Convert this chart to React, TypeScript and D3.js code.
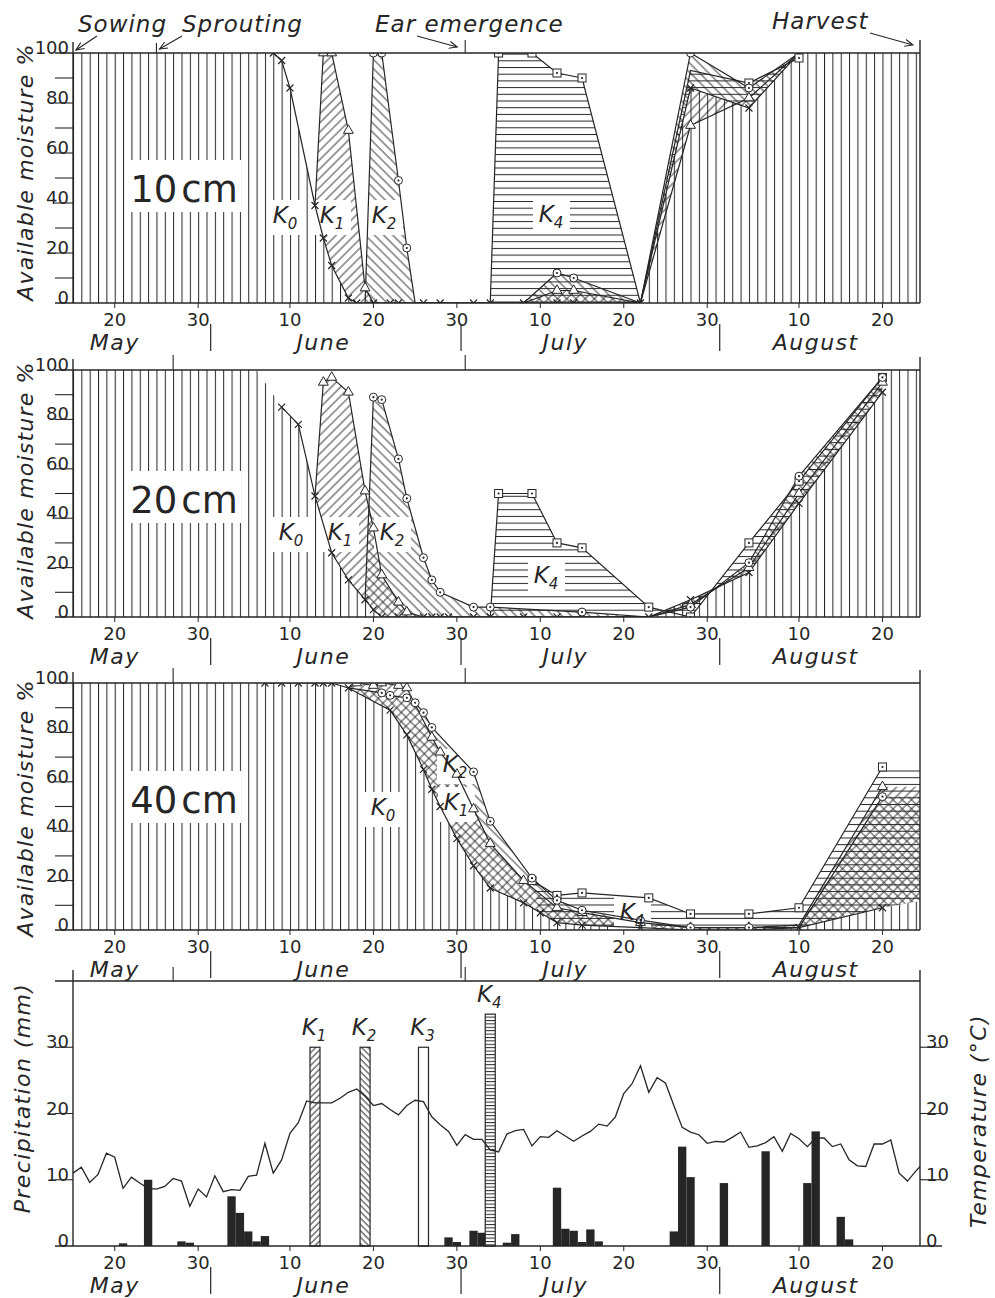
import React from "react";
import * as d3 from "d3";

type Pt = [string, number, string?];

const INK = "#262626";
const FONT = "'DejaVu Sans', 'Liberation Sans', sans-serif";

// calendar
const dayTicks = ["05-20", "05-30", "06-10", "06-20", "06-30", "07-10", "07-20", "07-30", "08-10", "08-20"];
const months: [string, string][] = [["May", "05-20"], ["June", "06-14"], ["July", "07-13"], ["August", "08-12"]];
const monthStarts = ["06-01", "07-01", "08-01"];
const stages: [string, string][] = [["Sowing", "05-15"], ["Sprouting", "05-25"], ["Ear emergence", "07-01"], ["Harvest", "08-24"]];
const stageMarks = ["05-27", "07-01"];

// available moisture %, "a" = only in the hatching, "j" = joins a curve, no symbol
const k0_10: Pt[] = [["05-15", 100, "a"], ["06-08", 100], ["06-09", 97], ["06-10", 86], ["06-13", 39], ["06-14", 26], ["06-15", 15], ["06-17", 2], ["06-18", 0], ["06-20", 0], ["06-22", 0], ["06-23", 0], ["06-26", 0], ["06-28", 0], ["07-02", 0], ["07-04", 0], ["07-08", 0], ["07-12", 0], ["07-14", 0], ["07-22", 0], ["07-28", 86], ["08-04", 78], ["08-10", 100], ["08-25", 100, "a"]];
const k1_10: Pt[] = [["06-13", 39, "j"], ["06-14", 100], ["06-15", 100], ["06-17", 69], ["06-19", 6], ["06-20", 0, "j"], ["07-08", 0, "j"], ["07-12", 5], ["07-14", 5], ["07-22", 0, "j"], ["07-28", 71], ["08-04", 82], ["08-10", 100, "j"]];
const k2_10: Pt[] = [["06-19", 0, "j"], ["06-20", 100], ["06-21", 100], ["06-23", 49], ["06-24", 22], ["06-25", 0, "j"], ["07-08", 0, "j"], ["07-12", 12], ["07-14", 10], ["07-22", 0, "j"], ["07-28", 100], ["08-04", 86], ["08-10", 100, "j"]];
const k4_10: Pt[] = [["07-04", 0, "j"], ["07-05", 100], ["07-09", 100], ["07-12", 92], ["07-15", 90], ["07-22", 0, "j"], ["07-28", 93, "j"], ["08-04", 88], ["08-10", 98]];

const k0_20: Pt[] = [["05-15", 100, "a"], ["06-06", 100, "a"], ["06-09", 85], ["06-11", 78], ["06-13", 49], ["06-15", 26], ["06-17", 15], ["06-19", 7], ["06-20", 3], ["06-21", 0], ["06-23", 0], ["06-26", 0], ["06-27", 0], ["06-28", 0], ["06-29", 0], ["07-02", 0], ["07-04", 0], ["07-08", 0], ["07-12", 0], ["07-15", 0], ["07-23", 0], ["07-28", 7], ["08-04", 18], ["08-10", 46], ["08-20", 91], ["08-21", 100, "a"], ["08-25", 100, "a"]];
const k1_20: Pt[] = [["06-13", 49, "j"], ["06-14", 95], ["06-15", 97], ["06-17", 91], ["06-19", 51], ["06-20", 36], ["06-21", 17], ["06-23", 6], ["06-24", 2], ["06-26", 0, "j"], ["07-23", 0, "j"], ["07-28", 5], ["08-04", 20], ["08-10", 50], ["08-20", 95]];
const k2_20: Pt[] = [["06-19", 7, "j"], ["06-20", 89], ["06-21", 88], ["06-23", 64], ["06-24", 48], ["06-26", 24], ["06-27", 15], ["06-28", 10], ["07-02", 4], ["07-04", 4], ["07-15", 2], ["07-23", 0, "j"], ["07-28", 4], ["08-04", 22], ["08-10", 57], ["08-20", 97]];
const k4_20: Pt[] = [["07-04", 0, "j"], ["07-05", 50], ["07-09", 50], ["07-12", 30], ["07-15", 28], ["07-23", 4], ["07-28", 0], ["08-04", 30], ["08-10", 55], ["08-20", 97]];

const k0_40: Pt[] = [["05-15", 100, "a"], ["06-07", 100], ["06-09", 100], ["06-11", 100], ["06-13", 100], ["06-14", 100], ["06-15", 100], ["06-17", 98], ["06-22", 89], ["06-24", 79], ["06-26", 65], ["06-27", 57], ["06-28", 50], ["06-30", 37], ["07-02", 26], ["07-04", 17], ["07-08", 11], ["07-10", 7], ["07-12", 3], ["07-15", 2], ["07-22", 1], ["07-28", 0], ["08-04", 0], ["08-10", 1], ["08-20", 9], ["08-25", 12, "a"]];
const k1_40: Pt[] = [["06-17", 98, "j"], ["06-18", 100], ["06-20", 99], ["06-21", 100], ["06-23", 99], ["06-24", 98], ["06-27", 78], ["06-28", 72], ["06-30", 63], ["07-02", 49], ["07-04", 35], ["07-08", 20], ["07-12", 9], ["07-15", 7], ["07-22", 3], ["07-28", 1], ["08-04", 1], ["08-10", 2, "j"], ["08-20", 58], ["08-25", 58, "a"]];
const k2_40: Pt[] = [["06-17", 98, "j"], ["06-21", 96], ["06-22", 95], ["06-24", 94], ["06-25", 92], ["06-26", 88], ["06-27", 82], ["07-02", 64], ["07-04", 44], ["07-09", 21], ["07-12", 12], ["07-15", 8], ["07-22", 4], ["07-28", 1], ["08-04", 1], ["08-10", 1, "j"], ["08-20", 54], ["08-25", 54, "a"]];
const k4_40: Pt[] = [["07-09", 20], ["07-12", 14], ["07-15", 15], ["07-23", 13], ["07-28", 6.5], ["08-04", 6.5], ["08-10", 9], ["08-20", 66], ["08-25", 66, "a"]];

// weather
const rain: [string, number][] = [["05-21", 0.4], ["05-24", 10], ["05-28", 0.7], ["05-29", 0.5], ["06-03", 7.5], ["06-04", 5], ["06-05", 2.2], ["06-06", 0.7], ["06-07", 1.5], ["06-29", 1.3], ["06-30", 0.6], ["07-02", 2.3], ["07-03", 2.0], ["07-06", 0.5], ["07-07", 1.8], ["07-12", 8.8], ["07-13", 2.6], ["07-14", 2.3], ["07-15", 0.6], ["07-16", 2.5], ["07-17", 0.7], ["07-26", 2.2], ["07-27", 15], ["07-28", 10.4], ["08-01", 9.5], ["08-06", 14.3], ["08-11", 9.5], ["08-12", 17.3], ["08-15", 4.4], ["08-16", 1.0]];
const irrigation: [string, string, number][] = [["1", "06-13", 30], ["2", "06-19", 30], ["3", "06-26", 30], ["4", "07-04", 35]];
const tempStart = "05-15";
const temperature = [11.0, 11.9, 9.6, 10.8, 14.0, 13.4, 8.7, 10.4, 9.5, 8.7, 8.6, 9.0, 10.2, 9.8, 6.0, 8.6, 7.4, 10.6, 8.2, 8.5, 8.4, 10.5, 10.7, 15.5, 11.0, 13.0, 17.0, 18.6, 21.9, 21.6, 21.6, 21.6, 22.3, 23.2, 23.7, 22.6, 21.2, 21.5, 20.6, 19.8, 21.2, 22.0, 21.8, 19.5, 18.3, 17.3, 15.2, 16.8, 16.1, 16.1, 14.5, 14.2, 16.9, 17.4, 17.6, 15.1, 16.5, 16.4, 17.4, 16.6, 15.8, 16.6, 17.3, 18.4, 18.1, 19.5, 23.0, 24.5, 27.2, 23.2, 25.4, 24.6, 21.2, 17.9, 17.2, 16.8, 15.5, 15.8, 15.7, 16.4, 17.2, 14.9, 15.1, 15.6, 16.5, 14.3, 17.0, 16.2, 15.0, 16.3, 16.3, 15.0, 15.4, 13.0, 12.1, 12.0, 15.4, 15.4, 16.0, 11.0, 9.8, 11.3, 12.7];

const parse = d3.timeParse("%m-%d") as (s: string) => Date;
const L = 73, R = 920;
const x = d3.scaleTime().domain([parse("05-15"), d3.timeHour.offset(parse("08-24"), 12)]).range([L, R]);
const X = (s: string) => x(parse(s));
const dayW = X("05-16") - X("05-15");
const half = (s: string) => x(d3.timeHour.offset(parse(s), -12));
const tri = d3.symbol(d3.symbolTriangle, 42)() as string;

const panels = [
  { id: "p10", depth: "10", top: 53, bottom: 303, k0: k0_10, k1: k1_10, k2: k2_10, k4: k4_10, tag: 202, title: 172,
    keys: [["0", 285, 223], ["1", 332, 223], ["2", 384, 223], ["4", 551, 222]] as [string, number, number][] },
  { id: "p20", depth: "20", top: 370, bottom: 617, k0: k0_20, k1: k1_20, k2: k2_20, k4: k4_20, tag: 513, title: 490,
    keys: [["0", 291, 540], ["1", 340, 540], ["2", 392, 540], ["4", 546, 583]] as [string, number, number][] },
  { id: "p40", depth: "40", top: 683, bottom: 930, k0: k0_40, k1: k1_40, k2: k2_40, k4: k4_40, tag: 813, title: 808,
    keys: [["0", 383, 815], ["2", 455, 772], ["1", 456, 810], ["4", 632, 920]] as [string, number, number][] },
];

function Marker({ kind, cx, cy }: { kind: string; cx: number; cy: number }) {
  const t = `translate(${cx},${cy})`;
  if (kind === "x") return <path transform={t} d="M-3.5,-3.5L3.5,3.5M-3.5,3.5L3.5,-3.5" stroke={INK} strokeWidth={1.2} fill="none" />;
  if (kind === "tri") return <path transform={t} d={tri} fill="#fff" stroke={INK} strokeWidth={1} />;
  if (kind === "circ") return <g transform={t}><circle r={4} fill="#fff" stroke={INK} strokeWidth={1} /><circle r={1.1} fill={INK} /></g>;
  return <g transform={t}><rect x={-4} y={-4} width={8} height={8} fill="#fff" stroke={INK} strokeWidth={1} /><circle r={1.1} fill={INK} /></g>;
}

function KLabel({ n, cx, by, box = true }: { n: string; cx: number; by: number; box?: boolean }) {
  return (
    <g>
      {box && <rect x={cx - 18} y={by - 23} width={37} height={35} fill="#fff" />}
      <text x={cx} y={by} textAnchor="middle" fontStyle="italic" fontSize={23} fill={INK}>
        K<tspan fontSize={15} dy={6}>{n}</tspan>
      </text>
    </g>
  );
}

function DateAxis({ bottom }: { bottom: number }) {
  return (
    <g fill={INK}>
      {dayTicks.map((d) => (
        <g key={d}>
          <line x1={X(d)} x2={X(d)} y1={bottom} y2={bottom + 5} stroke={INK} />
          <text x={X(d)} y={bottom + 23} textAnchor="middle" fontSize={18}>{String(+d.slice(3))}</text>
        </g>
      ))}
      {monthStarts.map((d) => (
        <line key={d} x1={half(d)} x2={half(d)} y1={bottom + 21} y2={bottom + 48} stroke={INK} strokeWidth={1.2} />
      ))}
      {months.map(([m, d]) => (
        <text key={m} x={X(d)} y={bottom + 47} textAnchor="middle" fontSize={22} fontStyle="italic" letterSpacing={1.5}>{m}</text>
      ))}
    </g>
  );
}

function MoisturePanel({ p }: { p: (typeof panels)[number] }) {
  const y = d3.scaleLinear().domain([0, 100]).range([p.bottom, p.top]);
  const line = d3.line<Pt>().x((d) => X(d[0])).y((d) => y(d[1]));
  const area = d3.area<Pt>().x((d) => X(d[0])).y0(y(0)).y1((d) => y(d[1]));
  const band = (kn: Pt[]) => {
    const t0 = +parse(kn[0][0]), t1 = +parse(kn[kn.length - 1][0]);
    const lower = p.k0.filter((d) => +parse(d[0]) >= t0 && +parse(d[0]) <= t1).reverse();
    return line([...kn, ...lower]) + "Z";
  };
  const series = [
    { data: p.k4, fill: "url(#horiz)", mark: "sq" },
    { data: p.k1, fill: "url(#up)", mark: "tri" },
    { data: p.k2, fill: "url(#down)", mark: "circ" },
  ];
  const clip = `clip-${p.id}`;
  const ticks = d3.range(0, 101, 10);
  return (
    <g>
      <clipPath id={clip}><rect x={L} y={p.top} width={R - L} height={p.bottom - p.top} /></clipPath>
      <g clipPath={`url(#${clip})`}>
        <path d={area(p.k0) as string} fill="url(#vert)" />
        {series.map((s, i) => <path key={i} d={band(s.data)} fill={s.fill} />)}
        <rect x={127} y={p.tag - 42} width={114} height={52} fill="#fff" />
        {p.keys.map(([n, cx, by]) => <rect key={n} x={cx - 18} y={by - 23} width={37} height={35} fill="#fff" />)}
        {[p.k0, ...series.map((s) => s.data)].map((s, i) => (
          <path key={i} d={line(s.filter((d) => d[2] !== "a")) as string} fill="none" stroke={INK} strokeWidth={1.2} />
        ))}
        {p.k0.filter((d) => !d[2]).map((d, i) => <Marker key={"x" + i} kind="x" cx={X(d[0])} cy={y(d[1])} />)}
        {series.map((s) =>
          s.data.filter((d) => !d[2]).map((d, i) => <Marker key={s.mark + i} kind={s.mark} cx={X(d[0])} cy={y(d[1])} />)
        )}
      </g>
      {/* frame */}
      <g stroke={INK} strokeWidth={1.4} fill="none">
        <line x1={L} x2={L} y1={p.bottom} y2={p.top - 11} />
        <line x1={R} x2={R} y1={p.bottom} y2={p.top - 13} />
        <line x1={55} x2={R} y1={p.top} y2={p.top} />
        <line x1={55} x2={R} y1={p.bottom} y2={p.bottom} />
        {ticks.slice(1, -1).map((t) => <line key={t} x1={55} x2={L} y1={y(t)} y2={y(t)} strokeWidth={1.1} />)}
        {p.id !== "p10" && stageMarks.map((d) => <line key={d} x1={X(d)} x2={X(d)} y1={p.top - 15} y2={p.top} strokeWidth={1.1} />)}
      </g>
      <g fill={INK} fontSize={18}>
        {ticks.filter((t) => t % 20 === 0).map((t) => (
          <text key={t} x={69} y={y(t) + 1} textAnchor="end">{t}</text>
        ))}
      </g>
      <text transform={`translate(33,${p.title}) rotate(-90)`} textAnchor="middle" fontSize={22} fontStyle="italic" letterSpacing={1.2} fill={INK}>
        Available moisture %
      </text>
      <text x={184} y={p.tag} textAnchor="middle" fontSize={37} fill={INK}>
        {p.depth}<tspan dx={4}>cm</tspan>
      </text>
      {p.keys.map(([n, cx, by]) => <KLabel key={n} n={n} cx={cx} by={by} box={false} />)}
      <DateAxis bottom={p.bottom} />
    </g>
  );
}

function WeatherPanel() {
  const top = 981, bottom = 1246;
  const y = d3.scaleLinear().domain([0, 40]).range([bottom, top]);
  const tx = (i: number) => x(d3.timeDay.offset(parse(tempStart), i));
  const tLine = d3.line<number>().x((_, i) => tx(i)).y((v) => y(v));
  const fills: Record<string, string> = { "1": "url(#barUp)", "2": "url(#barDown)", "3": "none", "4": "url(#barHoriz)" };
  const ticks = [0, 10, 20, 30];
  return (
    <g>
      <clipPath id="clip-w"><rect x={L} y={top} width={R - L} height={bottom - top} /></clipPath>
      {rain.map(([d, v]) => (
        <rect key={d} x={X(d) - dayW / 2} y={y(v)} width={dayW} height={y(0) - y(v)} fill={INK} />
      ))}
      {irrigation.map(([n, d, v]) => (
        <g key={n}>
          <rect x={X(d) - 5} y={y(v)} width={10} height={y(0) - y(v)} fill="#fff" />
          <rect x={X(d) - 5} y={y(v)} width={10} height={y(0) - y(v)} fill={fills[n]} stroke={INK} strokeWidth={1.2} />
          <KLabel n={n} cx={X(d) - 1} by={y(v) - 12} box={false} />
        </g>
      ))}
      <path d={tLine(temperature) as string} fill="none" stroke={INK} strokeWidth={1.3} clipPath="url(#clip-w)" />
      <g stroke={INK} strokeWidth={1.4}>
        <line x1={L} x2={L} y1={bottom} y2={top - 11} />
        <line x1={R} x2={R} y1={bottom} y2={top - 11} />
        <line x1={55} x2={R} y1={top} y2={top} />
        <line x1={55} x2={942} y1={bottom} y2={bottom} />
        {ticks.slice(1).map((t) => (
          <g key={t}>
            <line x1={55} x2={L} y1={y(t)} y2={y(t)} strokeWidth={1.1} />
            <line x1={R} x2={942} y1={y(t)} y2={y(t)} strokeWidth={1.1} />
          </g>
        ))}
        {stageMarks.map((d) => <line key={d} x1={X(d)} x2={X(d)} y1={top - 14} y2={top} strokeWidth={1.1} />)}
      </g>
      <g fill={INK} fontSize={18}>
        {ticks.map((t) => (
          <g key={t}>
            <text x={69} y={y(t) + 1} textAnchor="end">{t}</text>
            <text x={926} y={y(t) + 1}>{t}</text>
          </g>
        ))}
      </g>
      <text transform={`translate(30,1098) rotate(-90)`} textAnchor="middle" fontSize={22} fontStyle="italic" letterSpacing={1.4} fill={INK}>
        Precipitation (mm)
      </text>
      <text transform={`translate(986,1121) rotate(-90)`} textAnchor="middle" fontSize={22} fontStyle="italic" letterSpacing={1.4} fill={INK}>
        Temperature (°C)
      </text>
      <DateAxis bottom={bottom} />
    </g>
  );
}

const stageLayout = [
  { tx: 78, ty: 32, ax: 97, dx: 3, ty2: 50 },
  { tx: 182, ty: 32, ax: 182, dx: 3, ty2: 49 },
  { tx: 375, ty: 32, ax: 417, dx: -8, ty2: 47 },
  { tx: 772, ty: 29, ax: 870, dx: -3, ty2: 45 },
];

function Stages() {
  return (
    <g fill={INK}>
      {stages.map(([name, d], i) => {
        const s = stageLayout[i];
        return (
          <g key={name}>
            <text x={s.tx} y={s.ty} fontSize={23} fontStyle="italic" letterSpacing={1}>{name}</text>
            <line x1={s.ax} y1={s.ty + 4} x2={X(d) + s.dx} y2={s.ty2} stroke={INK} strokeWidth={1.1} markerEnd="url(#arrow)" />
          </g>
        );
      })}
      <line x1={X("05-25")} x2={X("05-25")} y1={43} y2={53} stroke={INK} strokeWidth={1.1} />
      <line x1={X("07-01")} x2={X("07-01")} y1={40} y2={53} stroke={INK} strokeWidth={1.1} />
    </g>
  );
}

export default function App() {
  return (
    <svg width={995} height={1298} style={{ position: "absolute", left: 0, top: 0, background: "#fff" }} fontFamily={FONT}>
      <defs>
        <pattern id="vert" patternUnits="userSpaceOnUse" x={L} y={0} width={dayW} height={10}>
          <line x1={0.5} x2={0.5} y1={0} y2={10} stroke={INK} strokeWidth={1} />
        </pattern>
        <pattern id="up" patternUnits="userSpaceOnUse" width={6.5} height={6.5} patternTransform="rotate(45)">
          <line x1={1} x2={1} y1={0} y2={6.5} stroke={INK} strokeWidth={0.9} />
        </pattern>
        <pattern id="down" patternUnits="userSpaceOnUse" width={6.5} height={6.5} patternTransform="rotate(-45)">
          <line x1={1} x2={1} y1={0} y2={6.5} stroke={INK} strokeWidth={0.9} />
        </pattern>
        <pattern id="horiz" patternUnits="userSpaceOnUse" width={10} height={6.7}>
          <line x1={0} x2={10} y1={0.5} y2={0.5} stroke={INK} strokeWidth={1} />
        </pattern>
        <pattern id="barUp" patternUnits="userSpaceOnUse" width={4.5} height={4.5} patternTransform="rotate(45)">
          <line x1={1} x2={1} y1={0} y2={4.5} stroke={INK} strokeWidth={1} />
        </pattern>
        <pattern id="barDown" patternUnits="userSpaceOnUse" width={4.5} height={4.5} patternTransform="rotate(-45)">
          <line x1={1} x2={1} y1={0} y2={4.5} stroke={INK} strokeWidth={1} />
        </pattern>
        <pattern id="barHoriz" patternUnits="userSpaceOnUse" width={10} height={3.4}>
          <line x1={0} x2={10} y1={0.5} y2={0.5} stroke={INK} strokeWidth={1} />
        </pattern>
        <marker id="arrow" markerWidth={10} markerHeight={10} refX={8} refY={5} orient="auto" markerUnits="userSpaceOnUse">
          <path d="M0,1.5L8,5L0,8.5" fill="none" stroke={INK} strokeWidth={1.1} />
        </marker>
      </defs>
      <rect width={995} height={1298} fill="#fff" />
      <Stages />
      {panels.map((p) => <MoisturePanel key={p.id} p={p} />)}
      <WeatherPanel />
    </svg>
  );
}
